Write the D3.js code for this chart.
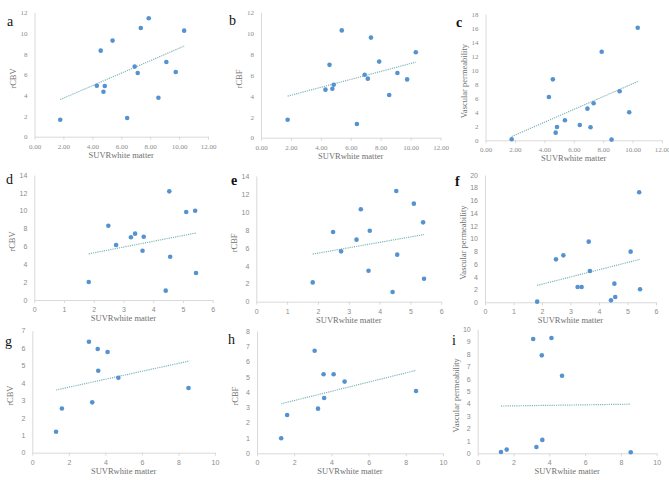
<!DOCTYPE html>
<html>
<head>
<meta charset="utf-8">
<script src="https://cdn.jsdelivr.net/npm/d3@7"></script>
<style>
  body { margin: 0; background: #fff; }
  svg { display: block; }
  .tick text { fill: #8c8c8c; }
  .domain, .tick line { stroke: #d9d9d9; }
</style>
</head>
<body>
<svg id="chart" width="669" height="481"></svg>
<script>
// SUVR white matter values, one array per cohort (rows of the figure)
var suvrRow1 = [1.78, 4.31, 4.58, 4.77, 4.86, 5.40, 6.41, 6.93, 7.14, 7.35, 7.90, 8.57, 9.12, 9.77, 10.35]
var rcbvRow1 = [1.64, 4.92, 8.30, 4.34, 4.89, 9.27, 1.80, 6.76, 6.15, 10.49, 11.42, 3.76, 7.20, 6.24, 10.23]
var rcbfRow1 = [1.72, 4.60, 6.97, 4.69, 5.07, 10.27, 1.31, 6.03, 5.65, 9.58, 7.28, 4.09, 6.19, 5.58, 8.17]
var vpRow1   = [0.14, 6.17, 8.69, 1.09, 1.90, 2.85, 2.18, 4.51, 1.85, 5.27, 12.63, 0.10, 6.98, 3.99, 16.05]

var suvrRow2 = [1.83, 2.49, 2.75, 3.25, 3.39, 3.64, 3.68, 4.42, 4.54, 4.57, 5.11, 5.41, 5.44]
var rcbvRow2 = [2.02, 8.32, 6.16, 7.02, 7.43, 5.52, 7.09, 1.05, 12.17, 4.85, 9.86, 10.00, 3.02]
var rcbfRow2 = [2.15, 7.76, 5.61, 6.91, 10.29, 3.45, 7.91, 1.08, 12.33, 5.24, 10.92, 8.84, 2.56]
var vpRow2   = [0.10, 6.75, 7.38, 2.41, 2.41, 9.53, 4.92, 0.31, 2.93, 0.84, 7.96, 17.28, 2.04]

var suvrRow3 = [1.30, 1.62, 3.10, 3.28, 3.58, 3.61, 4.12, 4.71, 8.55]
var rcbvRow3 = [1.20, 2.54, 6.37, 2.89, 5.95, 4.70, 5.78, 4.30, 3.71]
var rcbfRow3 = [0.98, 2.51, 6.71, 2.92, 5.17, 3.62, 5.17, 4.69, 4.08]
var vpRow3   = [0.11, 0.30, 9.22, 0.51, 7.90, 1.08, 9.30, 6.26, 0.08]

var xTitle = "SUVRwhite matter"

// panel: letter, data, axis ranges/ticks, pixel box (left, right, bottom, top)
var panels = [
  { id: "a", x: suvrRow1, y: rcbvRow1, yTitle: "rCBV", xMax: 12, xStep: 2, yMax: 12, yStep: 2, fmt: ".2f",
    box: [34.5, 208, 136.7, 12.3], letter: [7, 26], bold: false },
  { id: "b", x: suvrRow1, y: rcbfRow1, yTitle: "rCBF", xMax: 12, xStep: 2, yMax: 12, yStep: 2, fmt: ".2f",
    box: [261, 440.5, 137.7, 12.3], letter: [229, 25], bold: false },
  { id: "c", x: suvrRow1, y: vpRow1, yTitle: "Vascular permeability", xMax: 12, xStep: 2, yMax: 18, yStep: 2, fmt: ".2f",
    box: [485.5, 662, 140.3, 14], letter: [456, 27], bold: true },
  { id: "d", x: suvrRow2, y: rcbvRow2, yTitle: "rCBV", xMax: 6, xStep: 1, yMax: 14, yStep: 2, fmt: "d",
    box: [34.3, 212.7, 300, 175], letter: [6, 184], bold: false },
  { id: "e", x: suvrRow2, y: rcbfRow2, yTitle: "rCBF", xMax: 6, xStep: 1, yMax: 14, yStep: 2, fmt: "d",
    box: [256.3, 441.3, 301.7, 176], letter: [231, 185], bold: true },
  { id: "f", x: suvrRow2, y: vpRow2, yTitle: "Vascular permeability", xMax: 6, xStep: 1, yMax: 20, yStep: 2, fmt: "d",
    box: [485, 656, 302.3, 175], letter: [455, 186], bold: true },
  { id: "g", x: suvrRow3, y: rcbvRow3, yTitle: "rCBV", xMax: 10, xStep: 2, yMax: 7, yStep: 1, fmt: "d",
    box: [32.3, 215, 452.7, 330.7], letter: [5, 346], bold: false },
  { id: "h", x: suvrRow3, y: rcbfRow3, yTitle: "rCBF", xMax: 10, xStep: 2, yMax: 8, yStep: 1, fmt: "d",
    box: [257, 443, 453.3, 331], letter: [228, 344], bold: false },
  { id: "i", x: suvrRow3, y: vpRow3, yTitle: "Vascular permeability", xMax: 10, xStep: 2, yMax: 10, yStep: 1, fmt: "d",
    box: [477.7, 656.7, 453.3, 329.3], letter: [452, 345], bold: false }
]

var svg = d3.select("#chart")
var serif = "'Liberation Serif', 'Times New Roman', serif"

function fitLine(xs, ys) {
  var mx = d3.mean(xs), my = d3.mean(ys)
  var sxy = 0, sxx = 0
  for (var k = 0; k < xs.length; k++) {
    sxy += (xs[k] - mx) * (ys[k] - my)
    sxx += (xs[k] - mx) * (xs[k] - mx)
  }
  var slope = sxy / sxx
  var x0 = d3.min(xs), x1 = d3.max(xs)
  return [[x0, my + slope * (x0 - mx)], [x1, my + slope * (x1 - mx)]]
}

panels.forEach(function(p) {
  var g = svg.append("g").attr("class", "panel-" + p.id)
  var x = d3.scaleLinear().domain([0, p.xMax]).range([p.box[0], p.box[1]])
  var y = d3.scaleLinear().domain([0, p.yMax]).range([p.box[2], p.box[3]])

  var xAxis = d3.axisBottom(x)
    .tickValues(d3.range(0, p.xMax + 0.001, p.xStep))
    .tickFormat(d3.format(p.fmt))
    .tickSizeInner(3).tickSizeOuter(0).tickPadding(4)
  var yAxis = d3.axisLeft(y)
    .tickValues(d3.range(0, p.yMax + 0.001, p.yStep))
    .tickFormat(d3.format("d"))
    .tickSizeInner(0).tickSizeOuter(0).tickPadding(7)

  var gx = g.append("g").attr("transform", "translate(0," + p.box[2] + ")").call(xAxis)
  var gy = g.append("g").attr("transform", "translate(" + p.box[0] + ",0)").call(yAxis)
  g.selectAll(".tick text")
    .attr("font-family", p.fmt == ".2f" ? serif : "'Liberation Sans', Arial, sans-serif")
    .attr("font-size", 7)
  gx.select(".domain").attr("stroke", "#d9d9d9")
  gy.select(".domain").attr("stroke", "#d9d9d9")

  // x axis title
  g.append("text")
    .attr("x", (p.box[0] + p.box[1]) / 2)
    .attr("y", p.box[2] + 21)
    .attr("text-anchor", "middle")
    .attr("font-family", serif)
    .attr("font-size", 8.5)
    .attr("fill", "#6f6f6f")
    .text(xTitle)

  // y axis title
  var cy = (p.box[2] + p.box[3]) / 2 + 4
  var tx = p.box[0] - 19
  g.append("text")
    .attr("transform", "translate(" + tx + "," + cy + ") rotate(-90)")
    .attr("text-anchor", "middle")
    .attr("font-family", serif)
    .attr("font-size", 8.5)
    .attr("fill", "#6f6f6f")
    .text(p.yTitle)

  // trend line
  var fit = fitLine(p.x, p.y)
  g.append("line")
    .attr("x1", x(fit[0][0])).attr("y1", y(fit[0][1]))
    .attr("x2", x(fit[1][0])).attr("y2", y(fit[1][1]))
    .attr("stroke", "#80b6b8")
    .attr("stroke-width", 1.2)
    .attr("stroke-dasharray", "1.2,1")

  // points
  var pts = p.x.map(function(v, k) { return [v, p.y[k]] })
  g.selectAll(".dot").data(pts).enter()
    .append("circle")
    .attr("class", "dot")
    .attr("cx", function(d) { return x(d[0]) })
    .attr("cy", function(d) { return y(d[1]) })
    .attr("r", 2.3)
    .attr("fill", "#5592d0")

  // panel letter
  svg.append("text")
    .attr("x", p.letter[0])
    .attr("y", p.letter[1])
    .attr("font-family", serif)
    .attr("font-size", 14)
    .attr("font-weight", p.bold ? "bold" : "normal")
    .attr("fill", "#111")
    .text(p.id)
})
</script>
</body>
</html>
